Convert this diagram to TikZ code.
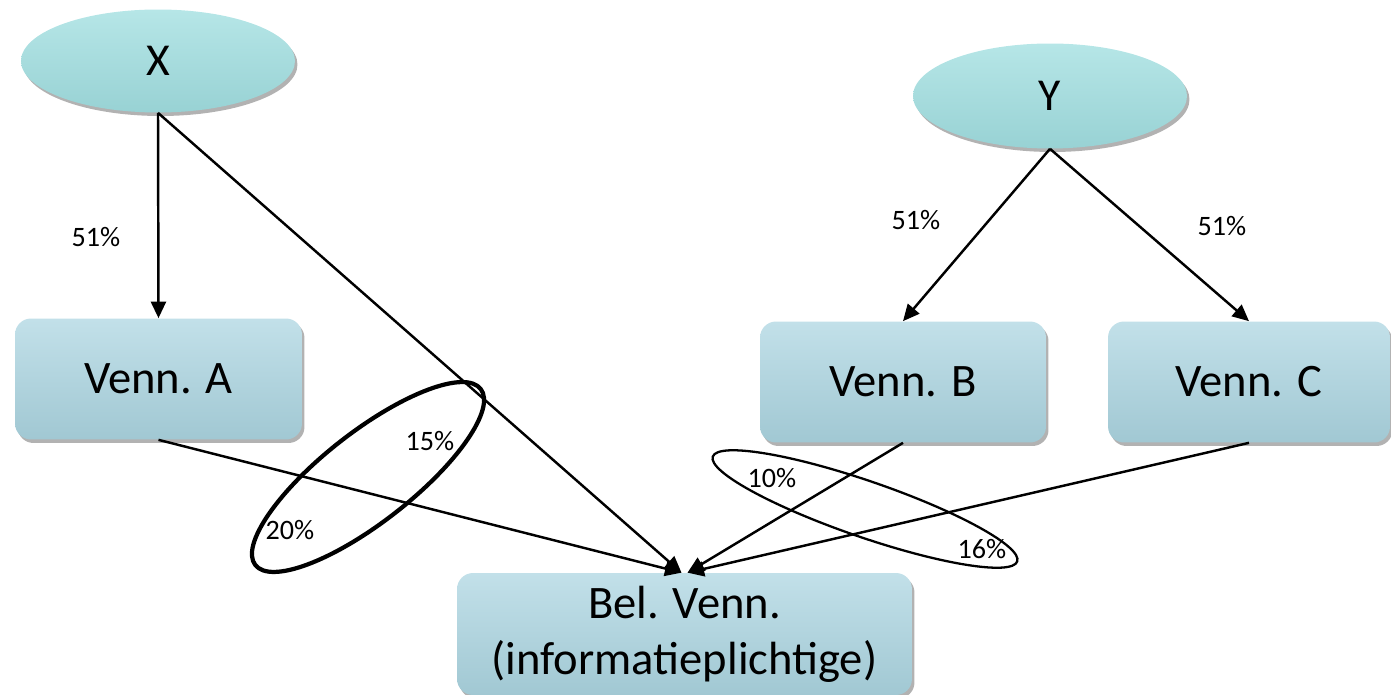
\documentclass[tikz,border=0pt]{standalone}
\usepackage{fontspec}
\setmainfont{Carlito}
\usepackage{tikz}
\usetikzlibrary{positioning, shapes.geometric, shadows, arrows.meta}
\tikzstyle{diagram} = [x = 0.02cm, y = -0.02cm]
\definecolor{ownerTop}{RGB}{182,230,231}
\definecolor{ownerBottom}{RGB}{152,210,212}
\definecolor{companyTop}{RGB}{194,224,233}
\definecolor{companyBottom}{RGB}{161,200,211}
\tikzstyle{softShadow} = [drop shadow = {shadow xshift = .05cm, shadow yshift = -.07cm, fill = black, opacity = .3}]
\tikzstyle{ownerStyle} = [ellipse, inner sep = 0, top color = ownerTop, bottom color = ownerBottom, softShadow, font = \fontsize{26}{32}\selectfont]
\tikzstyle{companyStyle} = [rectangle, rounded corners = .32cm, top color = companyTop, bottom color = companyBottom, softShadow, align = center, font = \fontsize{26.5}{32}\selectfont]
\tikzstyle{shareLine} = [line width = 1.4pt, -{Triangle[length = .33cm, width = .3cm]}]
\tikzstyle{shareText} = [font = \fontsize{16}{19}\selectfont]
\tikzstyle{ringThick} = [line width = 2.4pt]
\tikzstyle{ringThin} = [line width = 1.3pt]
\newcommand{\owner}[4]{\node [ownerStyle, minimum width = 5.48cm, minimum height = #3] (#1) at (#2) {#4};}
\newcommand{\company}[4]{\node [companyStyle, minimum width = #3, minimum height = 2.42cm] (#1) at (#2) {#4};}
\newcommand{\shareLabel}[3]{\node [shareText] (#1) at (#2) {#3};}
\newcommand{\stakeRing}[5]{\draw [#1, rotate around = {#2:(#3)}] (#3) ellipse [x radius = #4, y radius = #5];}

\begin{document}
\begin{tikzpicture}[diagram]
  \useasboundingbox (0,0) rectangle (1391,695);
  \owner{x}{158,61}{2.06cm}{X}
  \owner{y}{1050,96}{2.1cm}{Y}
  \company{a}{158.5,379}{5.74cm}{Venn. A}
  \company{b}{903,382}{5.72cm}{Venn. B}
  \company{c}{1249,382}{5.64cm}{Venn. C}
  \node [companyStyle, minimum width = 9.1cm, minimum height = 2.44cm] (bel) at (684.5,634) {Bel. Venn.\\(informatieplichtige)};

  \draw [shareLine] (x.south) -- (a.north);
  \draw [shareLine] (x.south) -- ([xshift = -.06cm]bel.north);
  \draw [shareLine] (a.south) -- ([xshift = -.06cm]bel.north);
  \draw [shareLine] (y.south) -- (b.north);
  \draw [shareLine] (y.south) -- (c.north);
  \draw [shareLine] (b.south) -- ([xshift = .06cm]bel.north);
  \draw [shareLine] (c.south) -- ([xshift = .06cm]bel.north);

  \shareLabel{xa}{96,237}{51\%}
  \shareLabel{yb}{916,220}{51\%}
  \shareLabel{yc}{1222,226}{51\%}
  \shareLabel{xbel}{430,441}{15\%}
  \shareLabel{abel}{290,530}{20\%}
  \shareLabel{bbel}{772,478}{10\%}
  \shareLabel{cbel}{982,549}{16\%}

  \stakeRing{ringThick}{38}{368,477}{143}{45}
  \stakeRing{ringThin}{-19}{865,509}{161}{28}
\end{tikzpicture}
\end{document}
